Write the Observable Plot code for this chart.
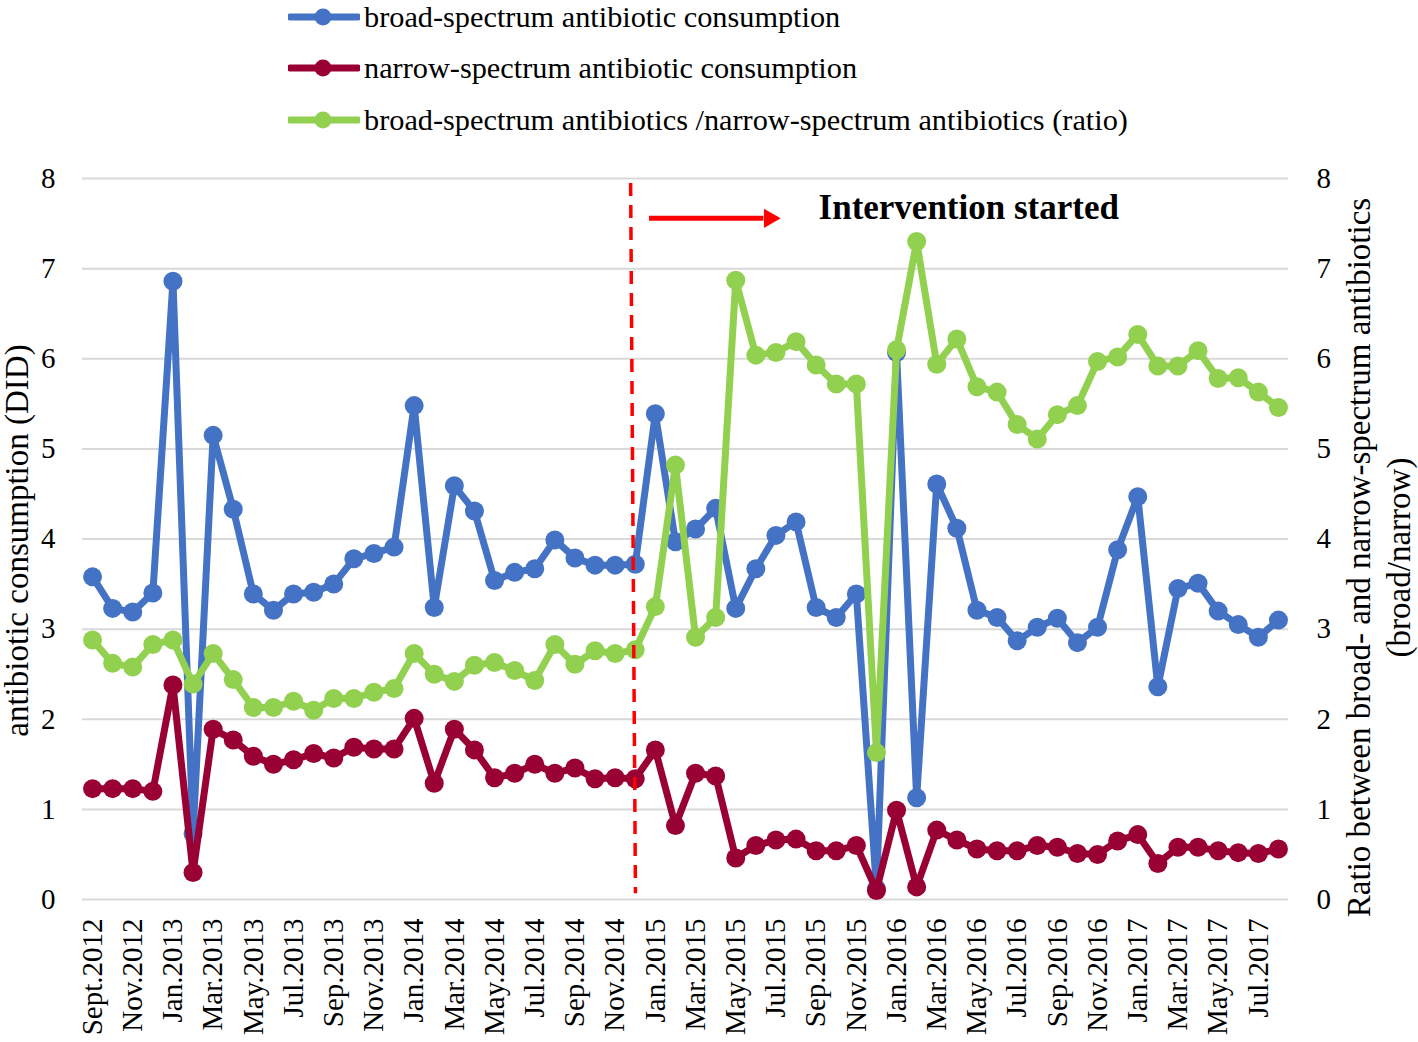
<!DOCTYPE html>
<html>
<head>
<meta charset="utf-8">
<script src="https://cdn.jsdelivr.net/npm/d3@7"></script>
<script src="https://cdn.jsdelivr.net/npm/@observablehq/plot@0.6"></script>
<style>
  html, body { margin: 0; padding: 0; background: #fff; }
  #wrap { width: 1418px; font-family: 'Liberation Serif', 'Times New Roman', serif; color: #000; }
  #legend { position: relative; width: 1418px; height: 150px; }
  .row { position: absolute; left: 288px; height: 40px; display: flex; align-items: center; font-size: 30.3px; white-space: nowrap; }
  .row svg { display: block; margin-right: 4px; }
  #chart svg { display: block; }
</style>
</head>
<body>
<div id="wrap">
  <div id="legend"></div>
  <div id="chart"></div>
</div>
<script>
const months = ["Sept.2012","Oct.2012","Nov.2012","Dec.2012","Jan.2013","Feb.2013","Mar.2013","Apr.2013","May.2013","Jun.2013",
  "Jul.2013","Aug.2013","Sep.2013","Oct.2013","Nov.2013","Dec.2013","Jan.2014","Feb.2014","Mar.2014","Apr.2014",
  "May.2014","Jun.2014","Jul.2014","Aug.2014","Sep.2014","Oct.2014","Nov.2014","Dec.2014","Jan.2015","Feb.2015",
  "Mar.2015","Apr.2015","May.2015","Jun.2015","Jul.2015","Aug.2015","Sep.2015","Oct.2015","Nov.2015","Dec.2015",
  "Jan.2016","Feb.2016","Mar.2016","Apr.2016","May.2016","Jun.2016","Jul.2016","Aug.2016","Sep.2016","Oct.2016",
  "Nov.2016","Dec.2016","Jan.2017","Feb.2017","Mar.2017","Apr.2017","May.2017","Jun.2017","Jul.2017","Aug.2017"];

const tickLabels = ["Sept.2012","Nov.2012","Jan.2013","Mar.2013","May.2013","Jul.2013","Sep.2013","Nov.2013",
  "Jan.2014","Mar.2014","May.2014","Jul.2014","Sep.2014","Nov.2014","Jan.2015","Mar.2015","May.2015","Jul.2015",
  "Sep.2015","Nov.2015","Jan.2016","Mar.2016","May.2016","Jul.2016","Sep.2016","Nov.2016","Jan.2017","Mar.2017",
  "May.2017","Jul.2017"];

const broad = [3.58,3.23,3.19,3.40,6.86,0.73,5.15,4.33,3.39,3.21,
  3.39,3.41,3.50,3.78,3.84,3.91,5.48,3.24,4.59,4.31,
  3.54,3.63,3.67,3.99,3.79,3.71,3.71,3.72,5.39,3.97,
  4.11,4.34,3.23,3.67,4.04,4.19,3.24,3.13,3.39,0.12,
  6.07,1.13,4.61,4.12,3.21,3.13,2.87,3.02,3.12,2.85,
  3.02,3.88,4.47,2.36,3.45,3.51,3.20,3.05,2.91,3.10];

const narrow = [1.23,1.23,1.23,1.20,2.38,0.30,1.89,1.77,1.59,1.50,
  1.55,1.62,1.57,1.69,1.67,1.67,2.01,1.29,1.89,1.66,
  1.35,1.40,1.50,1.40,1.46,1.34,1.35,1.34,1.66,0.82,
  1.40,1.37,0.46,0.60,0.66,0.67,0.54,0.54,0.60,0.10,
  0.99,0.14,0.77,0.66,0.56,0.54,0.54,0.60,0.58,0.51,
  0.50,0.65,0.72,0.40,0.58,0.58,0.54,0.52,0.51,0.56];

const ratio = [2.88,2.62,2.58,2.83,2.88,2.39,2.73,2.44,2.13,2.13,
  2.20,2.10,2.23,2.23,2.30,2.34,2.73,2.50,2.42,2.60,
  2.63,2.54,2.43,2.83,2.61,2.76,2.73,2.77,3.25,4.82,
  2.91,3.13,6.87,6.04,6.07,6.19,5.93,5.72,5.72,1.63,
  6.10,7.30,5.94,6.22,5.69,5.63,5.27,5.11,5.38,5.48,
  5.97,6.02,6.27,5.92,5.92,6.09,5.78,5.79,5.63,5.46];

const yTicks = [0,1,2,3,4,5,6,7,8];

const seriesNames = [
  "broad-spectrum antibiotic consumption",
  "narrow-spectrum antibiotic consumption",
  "broad-spectrum antibiotics /narrow-spectrum antibiotics (ratio)"
];
const seriesColors = ["#4472C4", "#990033", "#92D050"];

const leftTitle = "antibiotic consumption (DID)";
const rightTitle = "Ratio between broad- and narrow-spectrum antibiotics\n(broad/narrow)";
const annotation = "Intervention started";

const rows = (vals, s) => vals.map((v, i) => ({i, month: months[i], value: v, series: s}));
const broadRows = rows(broad, seriesNames[0]);
const narrowRows = rows(narrow, seriesNames[1]);
const ratioRows = rows(ratio, seriesNames[2]);
const tickIdx = tickLabels.map(l => months.indexOf(l));

// legend
const legend = document.getElementById("legend");
const legendTops = [-3, 48, 100];
seriesNames.forEach((name, k) => {
  const row = document.createElement("div");
  row.className = "row";
  row.style.top = legendTops[k] + "px";
  row.innerHTML = `<svg width="72" height="20"><line x1="2" y1="10" x2="70" y2="10" stroke="${seriesColors[k]}" stroke-width="7" stroke-linecap="round"/><circle cx="35" cy="10" r="8.5" fill="${seriesColors[k]}"/></svg><span>${name}</span>`;
  legend.appendChild(row);
});

const lineOpts = (color) => ({x: "i", y: "value", stroke: color, strokeWidth: 7, strokeLinejoin: "round"});
const dotOpts = (color) => ({x: "i", y: "value", fill: color, r: 9.5});

const chart = Plot.plot({
  width: 1418,
  height: 892,
  marginTop: 28,
  marginBottom: 143,
  marginLeft: 82,
  marginRight: 130,
  style: {fontFamily: "'Liberation Serif', 'Times New Roman', serif", fontSize: "29px", color: "#000", background: "#fff"},
  x: {domain: [-0.5, 59.5]},
  y: {domain: [0, 8]},
  marks: [
    Plot.gridY(yTicks, {stroke: "#d9d9d9", strokeOpacity: 1, strokeWidth: 2}),
    Plot.axisY(yTicks, {anchor: "left", tickSize: 0, tickPadding: 27, label: null, tickFormat: d => String(d)}),
    Plot.axisY(yTicks, {anchor: "right", tickSize: 0, tickPadding: 28, label: null, tickFormat: d => String(d)}),
    Plot.axisX(tickIdx, {anchor: "bottom", tickSize: 0, tickPadding: 19, tickRotate: -90, tickFormat: i => months[i], label: null}),
    Plot.text([leftTitle], {frameAnchor: "left", textAnchor: "middle", dx: -65, dy: 1.5, rotate: -90, fontSize: 33}),
    Plot.text([rightTitle], {frameAnchor: "right", textAnchor: "middle", dx: 89, dy: 18.5, rotate: -90, fontSize: 33, lineHeight: 1.2}),
    Plot.line(broadRows, lineOpts(seriesColors[0])),
    Plot.dot(broadRows, dotOpts(seriesColors[0])),
    Plot.line(narrowRows, lineOpts(seriesColors[1])),
    Plot.dot(narrowRows, dotOpts(seriesColors[1])),
    Plot.line(ratioRows, lineOpts(seriesColors[2])),
    Plot.dot(ratioRows, dotOpts(seriesColors[2])),
    // intervention marker
    Plot.link([{x1: 26.77, y1: 7.95, x2: 27.01, y2: 0.07}], {x1: "x1", y1: "y1", x2: "x2", y2: "y2", stroke: "#FF0000", strokeWidth: 3.5, strokeDasharray: "13,9"}),
    Plot.ruleY([7.558], {x1: 27.71, x2: 33.4, stroke: "#FF0000", strokeWidth: 5}),
    Plot.dot([{x: 33.68, y: 7.558}], {x: "x", y: "y", symbol: "triangle", rotate: 90, r: 7.2, fill: "#FF0000"}),
    Plot.text([annotation], {x: 36.12, y: 7.67, textAnchor: "start", fontWeight: "bold", fontSize: 35})
  ]
});
document.getElementById("chart").appendChild(chart);
</script>
</body>
</html>
